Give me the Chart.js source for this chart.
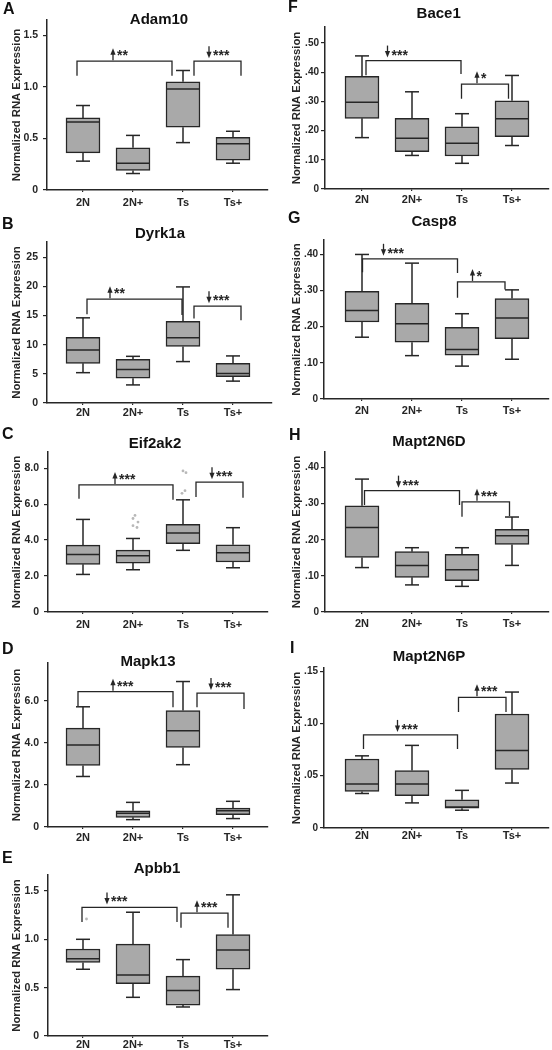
<!DOCTYPE html>
<html lang="en">
<head>
<meta charset="UTF-8">
<title>Normalized RNA Expression</title>
<style>
  body { margin: 0; background: #fff; }
  #fig { position: relative; width: 552px; height: 1050px; overflow: hidden; }
  #fig canvas { position: absolute; }
</style>
<script src="https://cdn.jsdelivr.net/npm/chart.js@4"></script>
</head>
<body>
<div id="fig"></div>
<script>
const groups = ['2N', '2N+', 'Ts', 'Ts+'];

// five-number summaries per group: [min, q1, median, q3, max]
const adam10   = [[0.28, 0.36, 0.66, 0.70, 0.82], [0.16, 0.19, 0.26, 0.41, 0.53], [0.46, 0.61, 0.98, 1.05, 1.16], [0.26, 0.29, 0.45, 0.51, 0.57]];
const dyrk1a   = [[5.2, 6.8, 9.1, 11.25, 14.6], [3.1, 4.26, 5.75, 7.5, 8.0], [7.1, 9.7, 11.2, 14.0, 19.9], [3.75, 4.5, 5.06, 6.8, 8.07]];
const eif2ak2  = [[2.09, 2.65, 3.2, 3.72, 5.15], [2.35, 2.72, 3.13, 3.44, 4.09], [3.43, 3.8, 4.4, 4.87, 6.24], [2.46, 2.78, 3.3, 3.74, 4.69]];
const mapk13   = [[2.4, 2.92, 3.89, 4.7, 5.71], [0.35, 0.46, 0.65, 0.77, 1.17], [2.96, 3.78, 4.57, 5.53, 6.91], [0.4, 0.58, 0.77, 0.9, 1.22]];
const apbb1    = [[0.69, 0.76, 0.80, 0.90, 1.0], [0.40, 0.54, 0.63, 0.95, 1.28], [0.30, 0.32, 0.47, 0.62, 0.79], [0.48, 0.69, 0.89, 1.05, 1.46]];
const bace1    = [[0.176, 0.242, 0.297, 0.386, 0.456], [0.115, 0.128, 0.174, 0.242, 0.333], [0.088, 0.113, 0.157, 0.213, 0.258], [0.149, 0.179, 0.241, 0.302, 0.389]];
const casp8    = [[0.171, 0.213, 0.245, 0.298, 0.40], [0.12, 0.157, 0.208, 0.265, 0.376], [0.091, 0.121, 0.137, 0.198, 0.236], [0.11, 0.167, 0.224, 0.278, 0.302]];
const mapt2n6d = [[0.123, 0.151, 0.234, 0.294, 0.368], [0.075, 0.096, 0.129, 0.167, 0.178], [0.071, 0.087, 0.117, 0.16, 0.178], [0.129, 0.187, 0.211, 0.229, 0.263]];
const mapt2n6p = [[0.033, 0.035, 0.042, 0.066, 0.069], [0.024, 0.031, 0.042, 0.055, 0.079], [0.017, 0.019, 0.020, 0.027, 0.036], [0.043, 0.056, 0.074, 0.109, 0.13]];

// outliers: group index, value, small horizontal jitter
const eif2ak2OutGroup  = [1, 1, 1, 1, 1, 2, 2, 2, 2];
const eif2ak2OutValue  = [5.37, 5.2, 5.0, 4.8, 4.7, 7.85, 7.75, 6.75, 6.6];
const eif2ak2OutJitter = [0.04, 0.0, 0.1, 0.0, 0.08, 0.0, 0.06, 0.04, -0.02];
const apbb1OutGroup  = [0];
const apbb1OutValue  = [1.21];
const apbb1OutJitter = [0.07];

// y ticks
const ticks1p5  = [0, 0.5, 1.0, 1.5];
const labels1p5 = ['0', '0.5', '1.0', '1.5'];
const dyrkTicks  = [0, 5, 10, 15, 20, 25];
const dyrkLabels = ['0', '5', '10', '15', '20', '25'];
const eifTicks  = [0, 2, 4, 6, 8];
const eifLabels = ['0', '2.0', '4.0', '6.0', '8.0'];
const mapkTicks  = [0, 2, 4, 6];
const mapkLabels = ['0', '2.0', '4.0', '6.0'];
const baceTicks  = [0, 0.1, 0.2, 0.3, 0.4, 0.5];
const baceLabels = ['0', '.10', '.20', '.30', '.40', '.50'];
const tenthTicks  = [0, 0.1, 0.2, 0.3, 0.4];
const tenthLabels = ['0', '.10', '.20', '.30', '.40'];
const p6pTicks  = [0, 0.05, 0.10, 0.15];
const p6pLabels = ['0', '.05', '.10', '.15'];

// significance brackets: [left, right, top, left leg end, right leg end, arrow at, direction, stars]
const adam10Sig   = [[-0.12, 1.78, 1.25, 1.11, 1.11, 0.6, 'up', '**'], [2.22, 3.16, 1.25, 1.11, 1.11, 2.52, 'down', '***']];
const dyrk1aSig   = [[0.08, 1.98, 17.8, 15.2, 15.1, 0.54, 'up', '**'], [2.22, 3.16, 16.6, 14.5, 14.2, 2.52, 'down', '***']];
const eif2ak2Sig  = [[-0.08, 1.8, 7.07, 6.3, 6.24, 0.64, 'up', '***'], [2.26, 3.2, 7.22, 6.39, 6.35, 2.58, 'down', '***']];
const mapk13Sig   = [[-0.1, 1.8, 6.43, 5.75, 5.69, 0.6, 'up', '***'], [2.28, 3.22, 6.36, 5.69, 5.6, 2.56, 'down', '***']];
const apbb1Sig    = [[-0.02, 1.88, 1.33, 1.18, 1.18, 0.48, 'down', '***'], [1.96, 2.9, 1.27, 1.12, 1.12, 2.28, 'up', '***']];
const bace1Sig    = [[0.08, 1.98, 0.44, 0.39, 0.394, 0.51, 'down', '***'], [1.99, 2.93, 0.359, 0.309, 0.309, 2.3, 'up', '*']];
const casp8Sig    = [[0.01, 1.91, 0.388, 0.351, 0.349, 0.43, 'down', '***'], [1.91, 2.86, 0.324, 0.28, 0.303, 2.21, 'up', '*']];
const mapt2n6dSig = [[0.05, 1.95, 0.336, 0.296, 0.296, 0.73, 'down', '***'], [2.0, 2.95, 0.305, 0.264, 0.266, 2.3, 'up', '***']];
const mapt2n6pSig = [[0.03, 1.91, 0.089, 0.0755, 0.0755, 0.71, 'down', '***'], [1.93, 2.88, 0.125, 0.111, 0.111, 2.3, 'up', '***']];

const INK = '#262626';
const BOX_FILL = '#a9a9a9';
const FONT = '"Liberation Sans", Arial, Helvetica, sans-serif';
Chart.defaults.font.family = FONT;
Chart.defaults.color = INK;

const panels = [
  { letter: 'A', title: 'Adam10', stats: adam10, ticks: ticks1p5, labels: labels1p5, yMax: 1.65, sig: adam10Sig,
    col: 0, top: 0, h: 212, area: [47, 20, 268, 190], titleAt: [159, 24], letterAt: [3, 14], gap: 6 },
  { letter: 'B', title: 'Dyrk1a', stats: dyrk1a, ticks: dyrkTicks, labels: dyrkLabels, yMax: 27.6, sig: dyrk1aSig,
    col: 0, top: 210, h: 212, area: [47, 242, 272, 403], titleAt: [160, 27.5], letterAt: [2, 19.3], gap: 3 },
  { letter: 'C', title: 'Eif2ak2', stats: eif2ak2, ticks: eifTicks, labels: eifLabels, yMax: 8.9, sig: eif2ak2Sig,
    out: [eif2ak2OutGroup, eif2ak2OutValue, eif2ak2OutJitter],
    col: 0, top: 410, h: 222, area: [48, 452, 268, 612], titleAt: [155, 37.5], letterAt: [2, 29.3], gap: 6 },
  { letter: 'D', title: 'Mapk13', stats: mapk13, ticks: mapkTicks, labels: mapkLabels, yMax: 7.79, sig: mapk13Sig,
    col: 0, top: 620, h: 225, area: [48, 663, 268, 827], titleAt: [148, 45.8], letterAt: [2, 34.3], gap: 4 },
  { letter: 'E', title: 'Apbb1', stats: apbb1, ticks: ticks1p5, labels: labels1p5, yMax: 1.665, sig: apbb1Sig,
    out: [apbb1OutGroup, apbb1OutValue, apbb1OutJitter],
    col: 0, top: 830, h: 220, area: [48, 875, 268, 1036], titleAt: [157, 42.5], letterAt: [2, 33.3], gap: 2 },
  { letter: 'F', title: 'Bace1', stats: bace1, ticks: baceTicks, labels: baceLabels, yMax: 0.555, sig: bace1Sig,
    col: 1, top: 0, h: 210, area: [325, 27, 549, 189], titleAt: [162.7, 17.5], letterAt: [12, 12], gap: 4 },
  { letter: 'G', title: 'Casp8', stats: casp8, ticks: tenthTicks, labels: tenthLabels, yMax: 0.44, sig: casp8Sig,
    col: 1, top: 210, h: 210, area: [324, 240, 549, 399], titleAt: [158, 15.8], letterAt: [12, 13.3], gap: 5 },
  { letter: 'H', title: 'Mapt2N6D', stats: mapt2n6d, ticks: tenthTicks, labels: tenthLabels, yMax: 0.443, sig: mapt2n6dSig,
    col: 1, top: 410, h: 222, area: [325, 452, 549, 612], titleAt: [153, 35.8], letterAt: [13, 30], gap: 5 },
  { letter: 'I', title: 'Mapt2N6P', stats: mapt2n6p, ticks: p6pTicks, labels: p6pLabels, yMax: 0.153, sig: mapt2n6pSig,
    col: 1, top: 620, h: 226, area: [324, 668, 549, 828], titleAt: [153, 40.8], letterAt: [14, 33.3], gap: 1 }
];

function seg(ctx, x0, y0, x1, y1) {
  ctx.beginPath();
  ctx.moveTo(x0, y0);
  ctx.lineTo(x1, y1);
  ctx.stroke();
}

// shaft from y0 to tip y1, filled head at the tip
function arrow(ctx, x, y0, y1) {
  const d = y1 < y0 ? 1 : -1;
  seg(ctx, x, y0, x, y1 + d * 4);
  ctx.beginPath();
  ctx.moveTo(x, y1);
  ctx.lineTo(x - 2.6, y1 + d * 6.5);
  ctx.lineTo(x + 2.6, y1 + d * 6.5);
  ctx.closePath();
  ctx.fill();
}

function decor(p) {
  return {
    id: 'decor' + p.letter,
    afterDatasetsDraw(chart) {
      const { ctx, scales: { x, y } } = chart;
      ctx.save();
      ctx.strokeStyle = INK;
      ctx.fillStyle = INK;
      ctx.lineWidth = 1.5;
      p.stats.forEach((s, i) => {
        const cx = x.getPixelForValue(i);
        const [lo, q1, md, q3, hi] = s.map(v => y.getPixelForValue(v));
        seg(ctx, cx, q3, cx, hi);
        seg(ctx, cx, q1, cx, lo);
        seg(ctx, cx - 7, hi, cx + 7, hi);
        seg(ctx, cx - 7, lo, cx + 7, lo);
        seg(ctx, cx - 17, md, cx + 17, md);
      });
      ctx.lineWidth = 1.3;
      ctx.font = 'bold 14px ' + FONT;
      ctx.textAlign = 'left';
      ctx.textBaseline = 'alphabetic';
      p.sig.forEach(([l, r, top, lEnd, rEnd, at, dir, stars]) => {
        const xl = x.getPixelForValue(l), xr = x.getPixelForValue(r);
        const yt = y.getPixelForValue(top);
        ctx.beginPath();
        ctx.moveTo(xl, y.getPixelForValue(lEnd));
        ctx.lineTo(xl, yt);
        ctx.lineTo(xr, yt);
        ctx.lineTo(xr, y.getPixelForValue(rEnd));
        ctx.stroke();
        const xa = x.getPixelForValue(at);
        if (dir === 'up') arrow(ctx, xa, yt - 1, yt - 13);
        else arrow(ctx, xa, yt - 15, yt - 3);
        ctx.fillText(stars, xa + 4, yt - 1);
      });
      ctx.restore();
    },
    afterDraw(chart) {
      const ctx = chart.ctx;
      ctx.save();
      ctx.fillStyle = '#111';
      ctx.textBaseline = 'alphabetic';
      ctx.textAlign = 'left';
      ctx.font = 'bold 16px ' + FONT;
      ctx.fillText(p.letter, p.letterAt[0], p.letterAt[1]);
      ctx.textAlign = 'center';
      ctx.font = 'bold 15px ' + FONT;
      ctx.fillText(p.title, p.titleAt[0], p.titleAt[1]);
      ctx.restore();
    }
  };
}

const fig = document.getElementById('fig');

panels.forEach(p => {
  const left = p.col * 276;
  const [aL, aT, aR, aB] = p.area;
  const center0 = p.col === 0 ? 83 : 362;
  const canvas = document.createElement('canvas');
  canvas.width = 276;
  canvas.height = p.h;
  canvas.style.left = left + 'px';
  canvas.style.top = p.top + 'px';
  fig.appendChild(canvas);

  const datasets = [{
    type: 'bar',
    data: p.stats.map((s, i) => ({ x: i, y: [s[1], s[3]] })),
    backgroundColor: BOX_FILL,
    borderColor: INK,
    borderWidth: 1.5,
    borderSkipped: false,
    barThickness: 34
  }];
  if (p.out) {
    const [g, v, j] = p.out;
    datasets.push({
      type: 'scatter',
      data: v.map((val, k) => ({ x: g[k] + j[k], y: val })),
      pointRadius: 1.4,
      pointBackgroundColor: '#b8b8b8',
      pointBorderWidth: 0
    });
  }

  new Chart(canvas, {
    type: 'bar',
    data: { datasets },
    options: {
      responsive: false,
      animation: false,
      events: [],
      layout: { padding: { left: 0, top: aT - p.top, right: left + 276 - aR, bottom: 0 } },
      plugins: { legend: { display: false }, tooltip: { enabled: false } },
      scales: {
        x: {
          type: 'linear',
          offset: false,
          min: -(center0 - aL) / 50,
          max: (aR - center0) / 50,
          afterBuildTicks: axis => { axis.ticks = groups.map((_, i) => ({ value: i })); },
          afterFit: axis => { axis.height = p.top + p.h - aB; },
          ticks: {
            autoSkip: false,
            maxRotation: 0,
            padding: p.gap - 2,
            color: INK,
            font: { size: 11, weight: 'bold' },
            callback: v => groups[v]
          },
          grid: { display: true, drawOnChartArea: false, offset: false, tickLength: 2, color: INK, lineWidth: 1.2 },
          border: { display: true, color: INK, width: 1.5 }
        },
        y: {
          min: 0,
          max: p.yMax,
          afterBuildTicks: axis => { axis.ticks = p.ticks.map(v => ({ value: v })); },
          afterFit: axis => { axis.width = aL - left; },
          ticks: {
            padding: p.col === 0 ? 5 : 2,
            color: INK,
            font: { size: p.col === 0 ? 10.5 : 10, weight: 'bold' },
            callback: (v, i) => p.labels[i]
          },
          grid: { display: true, drawOnChartArea: false, tickLength: 4, color: INK, lineWidth: 1.2 },
          border: { display: true, color: INK, width: 1.5 },
          title: {
            display: true,
            text: 'Normalized RNA Expression',
            color: INK,
            font: { size: 11.3, weight: 'bold' },
            padding: { top: p.col === 0 ? 10.2 : 14.5, bottom: 0 }
          }
        }
      }
    },
    plugins: [decor(p)]
  });
});
</script>
</body>
</html>
